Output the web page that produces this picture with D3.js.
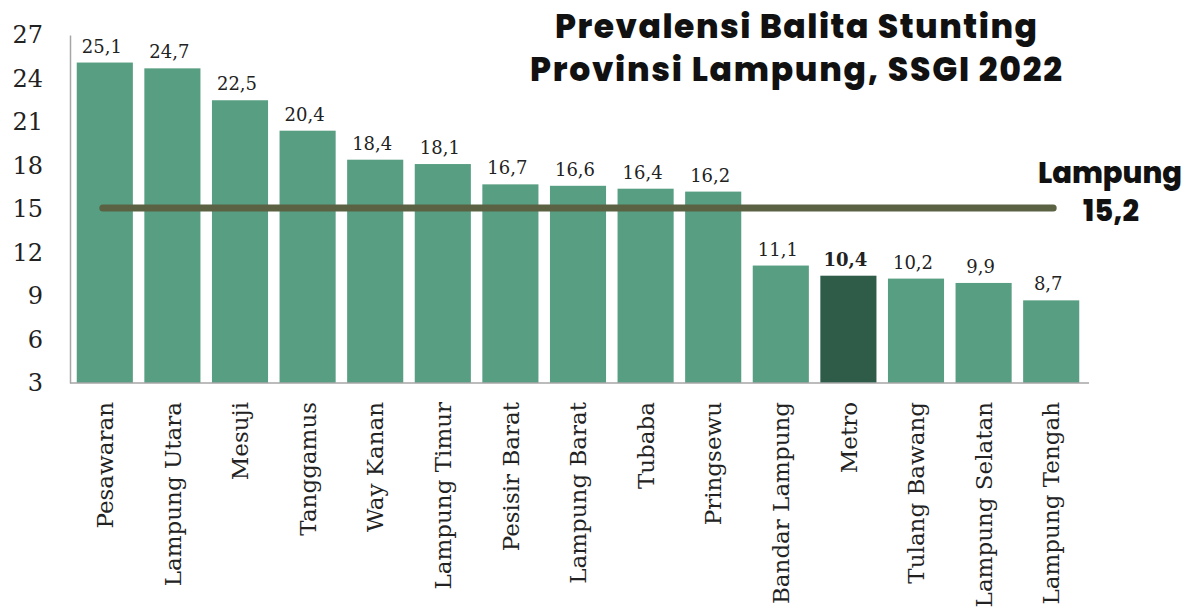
<!DOCTYPE html>
<html>
<head>
<meta charset="utf-8">
<script src="https://cdn.jsdelivr.net/npm/d3@7"></script>
<style>
  body { margin: 0; background: #fff; }
  svg { display: block; }
</style>
</head>
<body>
<svg id="chart" width="1191" height="610"></svg>
<script>
// ---- Dados
const kabupaten = [
    'Pesawaran', 'Lampung Utara', 'Mesuji', 'Tanggamus', 'Way Kanan',
    'Lampung Timur', 'Pesisir Barat', 'Lampung Barat', 'Tubaba', 'Pringsewu',
    'Bandar Lampung', 'Metro', 'Tulang Bawang', 'Lampung Selatan', 'Lampung Tengah'
];
const prevalensi = [25.1, 24.7, 22.5, 20.4, 18.4, 18.1, 16.7, 16.6, 16.4, 16.2, 11.1, 10.4, 10.2, 9.9, 8.7];
const yTicks = [3, 6, 9, 12, 15, 18, 21, 24, 27];
const provinsiValue = 15.2;
const highlight = 'Metro';
const titleLines = ['Prevalensi Balita Stunting', 'Provinsi Lampung, SSGI 2022'];

const data = kabupaten.map((k, i) => ({ name: k, value: prevalensi[i] }));

const svg = d3.select('#chart');
const margens = { left: 70, right: 106, top: 35, bottom: 227 };
const width = 1191, height = 610;

const x = d3.scaleBand()
    .domain(kabupaten)
    .range([margens.left + 1, width - margens.right])
    .paddingInner(0.17)
    .paddingOuter(0.085);

const y = d3.scaleLinear()
    .domain([3, 27])
    .range([height - margens.bottom, margens.top]);

const fmt = v => String(v).replace('.', ',');
const serif = '"DejaVu Serif", serif';

// ---- Eixo Y
svg.append('g')
    .attr('transform', `translate(${margens.left}, 0)`)
    .call(d3.axisLeft(y).tickValues(yTicks).tickSize(0).tickPadding(27))
    .call(g => g.select('.domain').attr('stroke', '#a6a6a6').attr('stroke-width', 1.5))
    .call(g => g.selectAll('text')
        .attr('font-family', serif)
        .attr('font-size', '24px')
        .attr('fill', '#222'));

// ---- Barras
svg.append('g').selectAll('rect')
    .data(data).join('rect')
    .attr('x', d => x(d.name))
    .attr('y', d => y(d.value))
    .attr('width', x.bandwidth())
    .attr('height', d => y(3) - y(d.value))
    .attr('fill', d => d.name === highlight ? '#2f5b49' : '#589e82');

// ---- Eixo X
svg.append('g')
    .attr('transform', `translate(0, ${y(3)})`)
    .call(d3.axisBottom(x).tickSize(0).tickSizeOuter(0))
    .call(g => g.select('.domain')
        .attr('d', `M${margens.left},0H${x.range()[1] + 4}`)
        .attr('stroke', '#a6a6a6').attr('stroke-width', 1.5))
    .call(g => g.selectAll('text')
        .attr('font-family', serif)
        .attr('font-size', '23px')
        .attr('fill', '#222')
        .attr('text-anchor', 'end')
        .attr('transform', 'rotate(-90)')
        .attr('x', -19)
        .attr('y', 0)
        .attr('dy', '0.36em'));

// ---- Rótulos de valor
svg.append('g').selectAll('text')
    .data(data).join('text')
    .attr('x', d => x(d.name) + x.bandwidth() / 2 - 3)
    .attr('y', d => y(d.value) - 10)
    .attr('text-anchor', 'middle')
    .attr('font-family', serif)
    .attr('font-size', '18px')
    .attr('font-weight', d => d.name === highlight ? 'bold' : 'normal')
    .attr('fill', '#222')
    .text(d => fmt(d.value));

// ---- Linha da província
const first = kabupaten[0], last = kabupaten[kabupaten.length - 1];
svg.append('line')
    .attr('x1', x(first) + x.bandwidth() / 2 - 2)
    .attr('x2', x(last) + x.bandwidth() / 2 + 2)
    .attr('y1', y(provinsiValue) + 2)
    .attr('y2', y(provinsiValue) + 2)
    .attr('stroke', '#5b6243')
    .attr('stroke-width', 7)
    .attr('stroke-linecap', 'round');

const sans = 'Poppins, "Open Sans", sans-serif';

// rótulo em duas linhas
const provLabel = svg.append('text')
    .attr('text-anchor', 'middle')
    .attr('font-family', sans).attr('font-weight', 800)
    .attr('font-size', '29px').attr('fill', '#111');
provLabel.append('tspan').attr('x', 1110).attr('y', 183).text('Lampung');
provLabel.append('tspan').attr('x', 1111).attr('y', 221).text(fmt(provinsiValue));

// ---- Título
const title = svg.append('text')
    .attr('font-family', sans).attr('font-weight', 800)
    .attr('font-size', '33px').attr('fill', '#111');
title.append('tspan').attr('x', 555).attr('y', 38)
    .attr('textLength', 482).attr('lengthAdjust', 'spacing')
    .text(titleLines[0]);
title.append('tspan').attr('x', 530).attr('y', 81)
    .attr('textLength', 532).attr('lengthAdjust', 'spacing')
    .text(titleLines[1]);
</script>
</body>
</html>
